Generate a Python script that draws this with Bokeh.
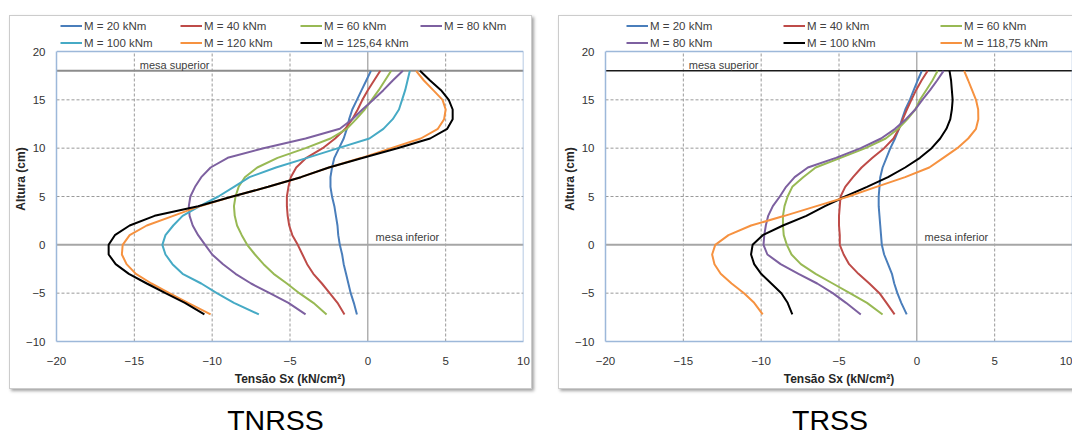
from bokeh.plotting import figure
from bokeh.models import (Label, Legend, LegendItem, FixedTicker, Range1d, Div)
from bokeh.layouts import row, column
from bokeh.embed import file_html
from bokeh.resources import INLINE

# ---------------- data ----------------
heights = [-7.2, -6, -5, -4, -3, -2, -1, 0, 1, 2, 3, 4, 5, 6, 7, 8, 9,
           10, 11, 12, 13, 14, 15, 16, 17, 18]

x_ticks = [-20, -15, -10, -5, 0, 5, 10]
y_ticks = [-10, -5, 0, 5, 10, 15, 20]
flange_top = 18      # "mesa superior"
flange_bottom = 0    # "mesa inferior"

# TNRSS (left chart)
tnrss_labels = ["M = 20 kNm", "M = 40 kNm", "M = 60 kNm", "M = 80 kNm",
                "M = 100 kNm", "M = 120 kNm", "M = 125,64 kNm"]
tnrss_m20 = [-0.7, -0.9, -1.1, -1.25, -1.4, -1.55, -1.65, -1.8, -1.9, -1.95, -2.05, -2.15, -2.3,
             -2.4, -2.4, -2.3, -2.15, -1.85, -1.55, -1.35, -1.2, -1.0, -0.7, -0.4, -0.1, 0.2]
tnrss_m40 = [-1.5, -1.95, -2.45, -2.95, -3.5, -3.9, -4.2, -4.5, -4.85, -5.05, -5.15, -5.2, -5.2,
             -5.1, -4.95, -4.6, -3.95, -2.9, -2.1, -1.45, -1.0, -0.65, -0.35, 0.0, 0.4, 0.8]
tnrss_m60 = [-2.65, -3.5, -4.4, -5.2, -6.05, -6.7, -7.25, -7.75, -8.1, -8.4, -8.55, -8.6, -8.5,
             -8.3, -7.9, -7.1, -5.8, -4.0, -2.4, -1.35, -0.75, -0.2, 0.25, 0.7, 1.1, 1.5]
tnrss_m80 = [-4.0, -5.1, -6.3, -7.5, -8.5, -9.3, -10.0, -10.45, -10.9, -11.25, -11.45, -11.5, -11.4,
             -11.1, -10.7, -10.1, -9.0, -6.7, -4.0, -1.8, -1.0, -0.35, 0.35, 1.0, 1.6, 2.25]
tnrss_m100 = [-7.0, -8.6, -9.7, -10.7, -11.9, -12.55, -13.0, -13.2, -13.0, -12.5, -11.9, -10.8, -9.6,
              -8.6, -7.6, -5.9, -3.9, -1.9, 0.1, 1.0, 1.6, 2.0, 2.2, 2.4, 2.55, 2.7]
tnrss_m120 = [-10.1, -11.55, -12.75, -13.9, -14.9, -15.5, -15.8, -15.75, -15.3, -14.2, -12.5, -10.8, -8.7,
              -6.4, -4.3, -2.5, -0.4, 1.5, 3.4, 4.5, 4.9, 5.0, 4.8, 4.2, 3.6, 3.1]
tnrss_m125 = [-10.5, -11.75, -13.0, -14.2, -15.35, -16.2, -16.65, -16.65, -16.25, -15.3, -13.7, -10.9, -8.7,
              -6.4, -4.3, -2.5, -0.3, 1.9, 4.0, 5.1, 5.45, 5.45, 5.2, 4.7, 4.0, 3.35]

# TRSS (right chart)
trss_labels = ["M = 20 kNm", "M = 40 kNm", "M = 60 kNm",
               "M = 80 kNm", "M = 100 kNm", "M = 118,75 kNm"]
trss_m20 = [-0.65, -1.0, -1.25, -1.45, -1.6, -1.85, -2.1, -2.25, -2.3, -2.35, -2.4, -2.45, -2.45,
            -2.4, -2.35, -2.2, -1.95, -1.7, -1.4, -1.15, -0.95, -0.74, -0.45, -0.2, 0.05, 0.32]
trss_m40 = [-1.43, -1.95, -2.4, -3.05, -3.75, -4.35, -4.7, -4.95, -4.95, -5.0, -5.0, -4.95, -4.9,
            -4.6, -4.1, -3.55, -2.85, -2.1, -1.5, -1.15, -0.9, -0.64, -0.35, -0.05, 0.3, 0.7]
trss_m60 = [-2.2, -3.2, -4.3, -5.4, -6.5, -7.45, -8.05, -8.35, -8.55, -8.6, -8.6, -8.5, -8.3,
            -8.0, -7.3, -6.5, -4.9, -3.3, -2.0, -1.2, -0.6, -0.1, 0.2, 0.6, 1.0, 1.34]
trss_m80 = [-3.6, -4.55, -5.4, -6.4, -7.6, -8.75, -9.6, -9.85, -9.8, -9.7, -9.55, -9.25, -8.8,
            -8.4, -7.85, -7.0, -5.2, -3.6, -2.3, -1.4, -0.7, -0.1, 0.35, 0.85, 1.3, 1.72]
trss_m100 = [-8.0, -8.3, -8.7, -9.35, -10.0, -10.45, -10.65, -10.55, -9.9, -8.6, -7.1, -5.9, -4.6,
             -3.2, -1.85, -0.75, 0.2, 0.95, 1.5, 1.9, 2.15, 2.25, 2.3, 2.25, 2.2, 2.1]
trss_m118 = [-9.9, -10.45, -11.1, -11.9, -12.6, -13.0, -13.15, -12.95, -12.1, -10.65, -8.5, -6.45, -4.4,
             -2.6, -0.75, 0.8, 1.7, 2.6, 3.3, 3.8, 3.95, 3.94, 3.8, 3.55, 3.3, 3.04]

titles = ["TNRSS", "TRSS"]

# ---------------- styles / layout ----------------
BLUE, RED, GREEN, PURPLE = "#4A7EBB", "#BE4B48", "#98B954", "#7D60A0"
CYAN, ORANGE, BLACK = "#46AAC5", "#F69240", "#000000"
FONT = "Liberation Sans"
BORDER_BLUE = "#9DB8D9"
GRID = "#9a9a9a"
H = 372            # figure height
PLOT_TOP = 35      # px between canvas top and y = 20 (legend lives there)
PLOT_H = 290       # px for the y span -10..20
BOTTOM = H - PLOT_TOP - PLOT_H


def build(series, labels, colors, width, min_left, min_right, legend_cols,
          legend_vx, y18_color, y18_width, margin, box_shadow):
    y0, y1 = y_ticks[0], y_ticks[-1]
    x0, x1 = x_ticks[0], x_ticks[-1]
    px_per_unit = PLOT_H / (y1 - y0)
    y_top = y1 + PLOT_TOP / px_per_unit          # frame extends up to hold legend
    p = figure(width=width, height=H, x_range=Range1d(x0, x1), y_range=Range1d(y0, y_top),
               output_backend="svg", toolbar_location=None,
               min_border_left=min_left, min_border_right=min_right,
               min_border_top=0, min_border_bottom=BOTTOM,
               margin=margin, styles={"box-shadow": box_shadow})
    p.background_fill_color = "white"
    p.border_fill_color = "white"
    p.outline_line_color = None
    p.xgrid.visible = False
    p.ygrid.visible = False

    # axes
    for ax in (p.xaxis, p.yaxis):
        ax.major_tick_out = 0
        ax.major_tick_in = 0
        ax.minor_tick_out = 0
        ax.minor_tick_in = 0
        ax.major_label_text_font = FONT
        ax.major_label_text_font_size = "11.5px"
        ax.major_label_text_color = "#333333"
        ax.axis_label_text_font = FONT
        ax.axis_label_text_font_size = "12px"
        ax.axis_label_text_font_style = "bold"
        ax.axis_label_text_color = "#262626"
        ax.axis_line_color = BORDER_BLUE
        ax.axis_line_width = 1.5
    p.xaxis.ticker = FixedTicker(ticks=x_ticks)
    p.yaxis.ticker = FixedTicker(ticks=y_ticks)
    p.yaxis.bounds = (y0, y1)
    p.xaxis.axis_label = "Tensão Sx (kN/cm²)"
    p.yaxis.axis_label = "Altura (cm)"
    p.xaxis.major_label_standoff = 15
    p.yaxis.major_label_standoff = 11
    p.xaxis.axis_label_standoff = 4
    p.yaxis.axis_label_standoff = -5

    # dashed grid (bounded to the plot area)
    gx = [t for t in x_ticks[1:-1] if t != 0]
    gy = [t for t in y_ticks[1:-1] if t != 0]
    p.segment(x0=gx, y0=[y0] * len(gx), x1=gx, y1=[y1] * len(gx),
              line_color=GRID, line_dash="3 2", line_width=1, level="underlay")
    p.segment(x0=[x0] * len(gy), y0=gy, x1=[x1] * len(gy), y1=gy,
              line_color=GRID, line_dash="3 2", line_width=1, level="underlay")
    # axis-crossing lines and flange lines
    p.segment(x0=[0], y0=[y0], x1=[0], y1=[y1], line_color="#8a8a8a", line_width=1,
              level="underlay")
    p.segment(x0=[x0], y0=[flange_bottom], x1=[x1], y1=[flange_bottom],
              line_color="#a6a6a6", line_width=2, level="underlay")
    p.segment(x0=[x0], y0=[flange_top], x1=[x1], y1=[flange_top],
              line_color=y18_color, line_width=y18_width, level="underlay")
    # top and right borders of plot area
    p.segment(x0=[x0, x1], y0=[y1, y0], x1=[x1, x1], y1=[y1, y1],
              line_color=BORDER_BLUE, line_width=1.5, level="underlay")

    p.add_layout(Label(x=-14.65, y=flange_top + 0.65, text="mesa superior", text_font=FONT,
                       text_font_size="11px", text_baseline="middle",
                       text_color="#404040"))
    p.add_layout(Label(x=0.5, y=flange_bottom + 0.8, text="mesa inferior", text_font=FONT,
                       text_font_size="11px", text_baseline="middle",
                       text_color="#404040"))

    # curves
    rends = []
    for xs, c in zip(series, colors):
        rends.append(p.line(xs, heights, line_color=c, line_width=2))

    # legend: one 2-row column per legend_cols entry, placed above y = 20
    frame_h = H - BOTTOM
    for col, vx in zip(legend_cols, legend_vx):
        items = [LegendItem(label=labels[i], renderers=[rends[i]]) for i in col]
        hgt = 17 * len(col)
        leg = Legend(items=items, location=(vx, frame_h - 1 - hgt),
                     orientation="vertical", border_line_color=None,
                     background_fill_alpha=0, padding=0, margin=0, spacing=0,
                     glyph_width=22, glyph_height=17, label_height=17,
                     label_standoff=2, label_text_font=FONT,
                     label_text_font_size="11.5px", label_text_color="#404040",
                     label_text_baseline="middle")
        p.add_layout(leg, "center")
    return p


p1 = build([tnrss_m20, tnrss_m40, tnrss_m60, tnrss_m80, tnrss_m100, tnrss_m120, tnrss_m125],
           tnrss_labels, [BLUE, RED, GREEN, PURPLE, CYAN, ORANGE, BLACK],
           width=521, min_left=45, min_right=8,
           legend_cols=[[0, 4], [1, 5], [2, 6], [3]], legend_vx=[4, 124, 244, 364],
           y18_color="#8c8c8c", y18_width=2, margin=(16, 0, 0, 10),
           box_shadow="0 0 0 1px #cccccc, 2px 2px 3px 1px #a3a3a3")

p2 = build([trss_m20, trss_m40, trss_m60, trss_m80, trss_m100, trss_m118],
           trss_labels, [BLUE, RED, GREEN, PURPLE, BLACK, ORANGE],
           width=513, min_left=43, min_right=0,
           legend_cols=[[0, 3], [1, 4], [2, 5]], legend_vx=[21, 178, 335],
           y18_color="#1a1a1a", y18_width=1.5, margin=(16, 0, 0, 28),
           box_shadow="0 0 0 1px #cccccc, 2px 2px 3px 1px #a3a3a3")

TITLE_STYLE = ("font-family: 'Liberation Sans', Arial, sans-serif; font-size: 28.5px; "
               "line-height: 33px; text-align: center; color: #000; display: block;")
d1 = Div(text=f'<div style="width: 551px; {TITLE_STYLE}">{titles[0]}</div>',
         width=551, height=33, margin=(16, 0, 0, 0))
d2 = Div(text=f'<div style="width: 436px; {TITLE_STYLE}">{titles[1]}</div>',
         width=436, height=33, margin=(16, 0, 0, 61))

layout = column(row(p1, p2), row(d1, d2))
open("out.html", "w").write(file_html(layout, INLINE))
